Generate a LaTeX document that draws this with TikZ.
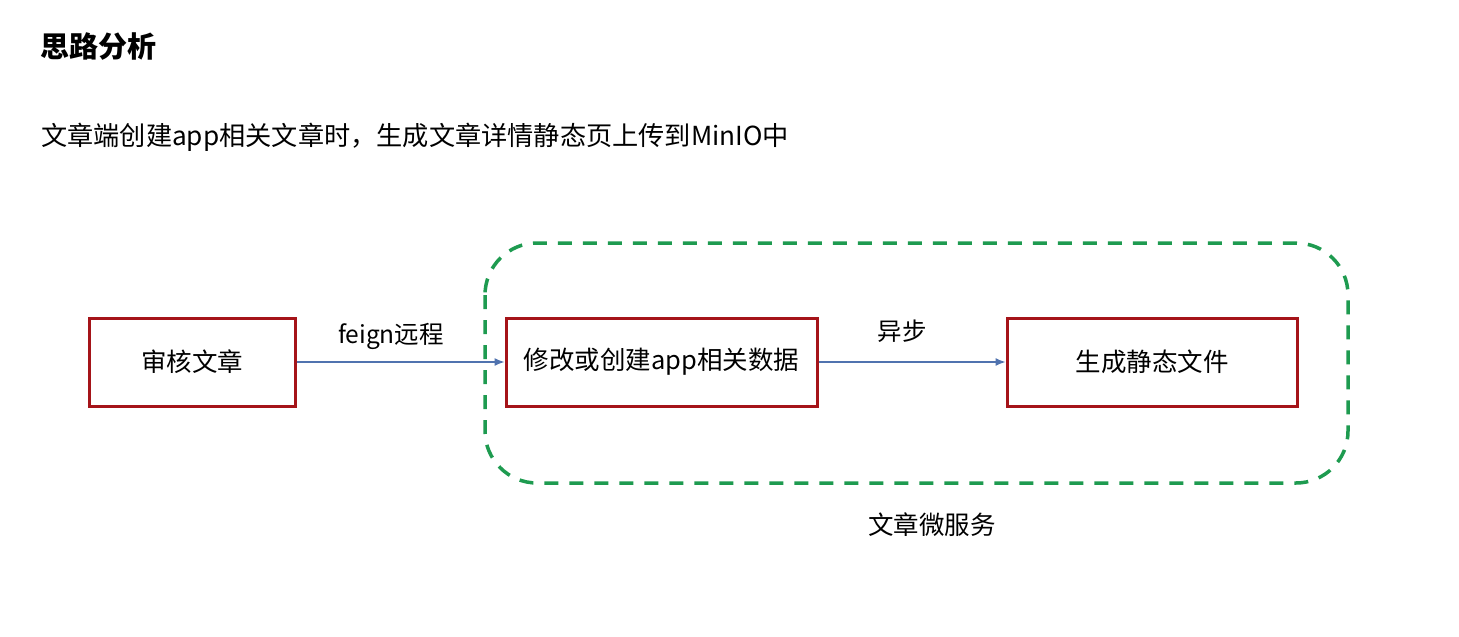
\documentclass[tikz,border=0pt]{standalone}
\usepackage{fontspec}
\setmainfont{Noto Sans CJK SC}
\usetikzlibrary{arrows.meta}
\definecolor{boxred}{RGB}{165,20,25}
\definecolor{dashgreen}{RGB}{30,155,80}
\definecolor{arrowblue}{RGB}{80,115,175}
\tikzset{
  stepbox/.style={draw=boxred, line width=3pt, fill=white, minimum height=88pt, inner sep=0pt, font=\fontsize{25.5}{30}\selectfont},
  flow/.style={draw=arrowblue, line width=1.3pt, -{Latex[length=10pt,width=8pt]}},
  lbl/.style={font=\fontsize{24.5}{29}\selectfont, inner sep=0pt},
}
\begin{document}
\begin{tikzpicture}[x=1pt,y=-1pt]
\useasboundingbox[fill=white] (0,0) rectangle (1459,637);
\node[anchor=west, inner sep=0pt, font=\fontsize{29}{34}\selectfont\bfseries] (title) at (40,47) {思路分析};
\node[anchor=west, inner sep=0pt, font=\fontsize{26.2}{31}\selectfont] (desc) at (41,137) {文章端创建app相关文章时，生成文章详情静态页上传到MinIO中};
\draw[dashgreen, line width=3.5pt, dash pattern=on 14pt off 11pt, rounded corners=52pt] (485,243) rectangle (1348,483);
\node[stepbox, minimum width=206pt] (a) at (192,362) {审核文章};
\node[stepbox, minimum width=311pt] (b) at (661.5,362) {修改或创建app相关数据};
\node[stepbox, minimum width=290pt] (c) at (1152,362) {生成静态文件};
\draw[flow] (a.east) -- (b.west);
\draw[flow] (b.east) -- (c.west);
\node[lbl] (l1) at (391,336) {feign远程};
\node[lbl] (l2) at (902,331) {异步};
\node[lbl, font=\fontsize{25.5}{30}\selectfont] (svc) at (932,525) {文章微服务};
\end{tikzpicture}
\end{document}
